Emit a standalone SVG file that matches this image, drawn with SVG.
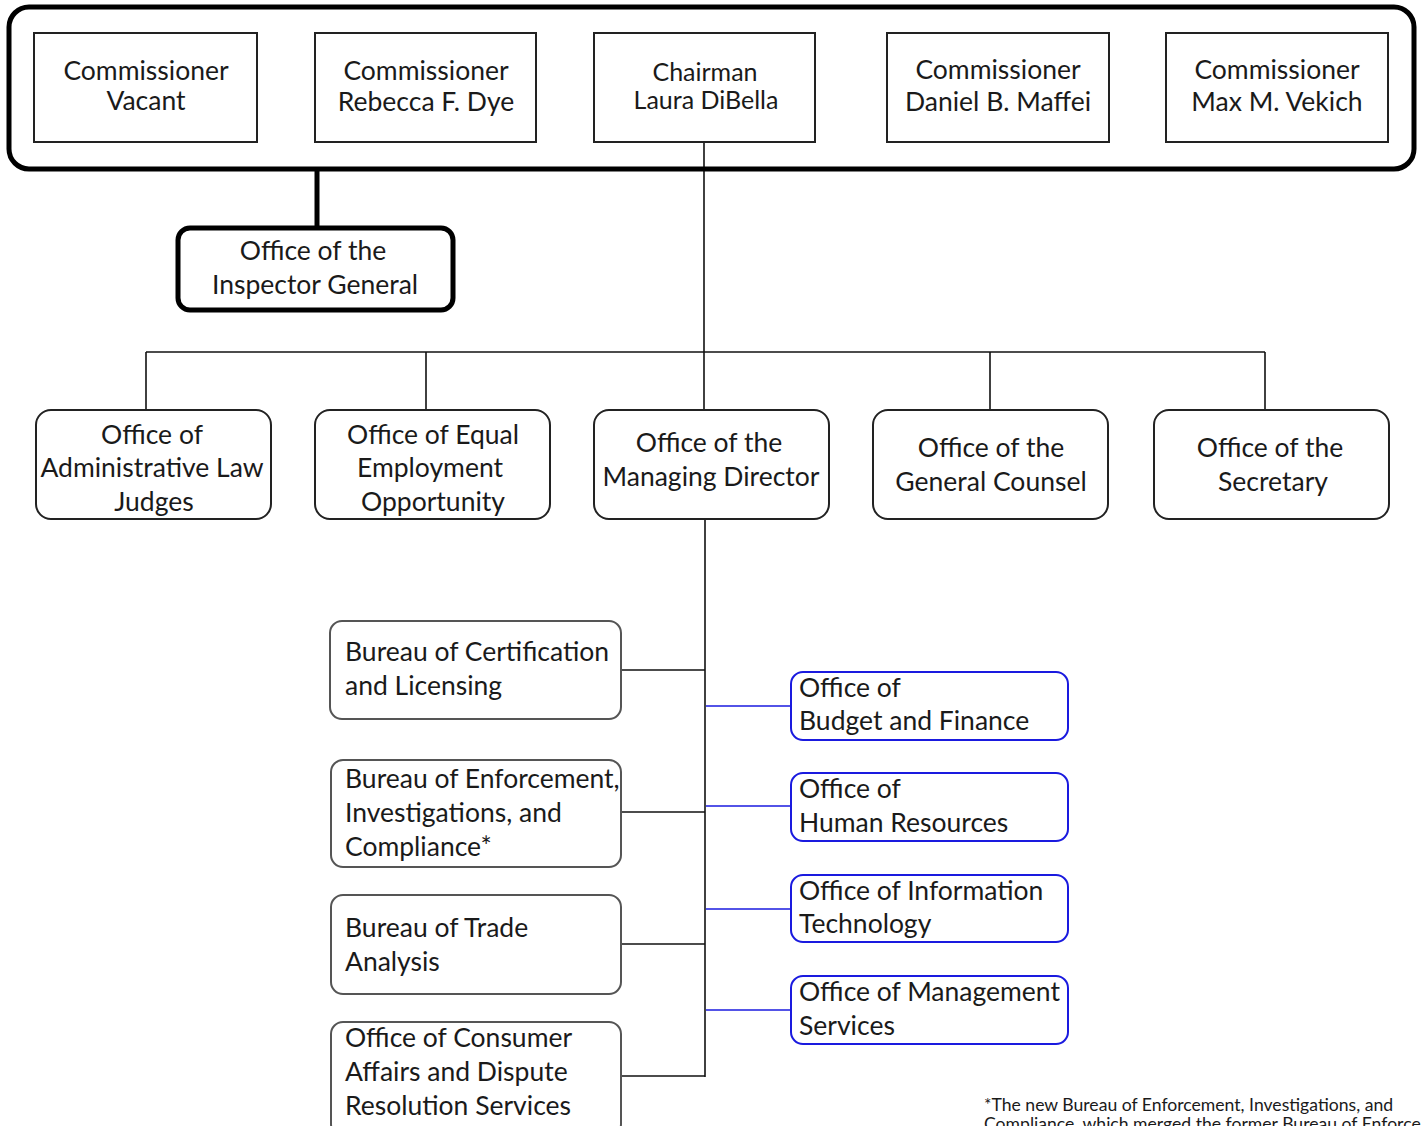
<svg xmlns="http://www.w3.org/2000/svg" width="1421" height="1126" viewBox="0 0 1421 1126">
<style>
text{font-family:Lato,"Open Sans","Liberation Sans",sans-serif;font-size:26.5px;fill:#1a1a1a}
.c{text-anchor:middle}
.ch{font-size:25px}
.sq{fill:#fff;stroke:#222;stroke-width:2}
.rb{fill:#fff;stroke:#222;stroke-width:2}
.gb{fill:#fff;stroke:#555;stroke-width:2}
.bb{fill:#fff;stroke:#1a1adf;stroke-width:2}
.thick{fill:#fff;stroke:#000;stroke-width:5}
.ln{stroke:#111;stroke-width:1.6;fill:none}
.bl{stroke:#1a1adf;stroke-width:1.6;fill:none}
.fn{font-size:17.6px}
</style>
<rect x="0" y="0" width="1421" height="1126" fill="#fff"/>
<g id="connectors">
<line x1="317" y1="169" x2="317" y2="228" stroke="#000" stroke-width="5"/>
<line class="ln" x1="704" y1="142" x2="704" y2="410"/>
<line class="ln" x1="146" y1="352" x2="1265" y2="352"/>
<line class="ln" x1="146" y1="352" x2="146" y2="410"/>
<line class="ln" x1="426" y1="352" x2="426" y2="410"/>
<line class="ln" x1="990" y1="352" x2="990" y2="410"/>
<line class="ln" x1="1265" y1="352" x2="1265" y2="410"/>
<line class="ln" x1="705" y1="519" x2="705" y2="1077"/>
<line class="ln" x1="621" y1="670" x2="705" y2="670"/>
<line class="ln" x1="621" y1="812" x2="705" y2="812"/>
<line class="ln" x1="621" y1="944" x2="705" y2="944"/>
<line class="ln" x1="621" y1="1076" x2="705" y2="1076"/>
<line class="bl" x1="706" y1="706" x2="791" y2="706"/>
<line class="bl" x1="706" y1="806" x2="791" y2="806"/>
<line class="bl" x1="706" y1="909" x2="791" y2="909"/>
<line class="bl" x1="706" y1="1010" x2="791" y2="1010"/>
</g>
<g id="commission">
<rect x="9" y="7" width="1405" height="162" rx="20" fill="none" stroke="#000" stroke-width="5"/>
</g>
<g id="comm-vacant"><rect class="sq" x="34" y="33" width="223" height="109"/><text class="c" x="146" y="80">Commissioner</text><text class="c" x="146" y="110">Vacant</text></g>
<g id="comm-dye"><rect class="sq" x="315" y="33" width="221" height="109"/><text class="c" x="426" y="80">Commissioner</text><text class="c" x="426" y="111">Rebecca F. Dye</text></g>
<g id="chairman"><rect class="sq" x="594" y="33" width="221" height="109"/><text class="c ch" x="705" y="81">Chairman</text><text class="c ch" x="706" y="109">Laura DiBella</text></g>
<g id="comm-maffei"><rect class="sq" x="887" y="33" width="222" height="109"/><text class="c" x="998" y="79">Commissioner</text><text class="c" x="998" y="111">Daniel B. Maffei</text></g>
<g id="comm-vekich"><rect class="sq" x="1166" y="33" width="222" height="109"/><text class="c" x="1277" y="79">Commissioner</text><text class="c" x="1277" y="111">Max M. Vekich</text></g>
<g id="oig"><rect class="thick" x="178" y="228" width="275" height="82" rx="12"/><text class="c" x="313" y="260">Office of the</text><text class="c" x="315" y="294">Inspector General</text></g>
<g id="alj"><rect class="rb" x="36" y="410" width="235" height="109" rx="15"/><text class="c" x="152" y="444">Office of</text><text class="c" x="152" y="477">Administrative Law</text><text class="c" x="154" y="511">Judges</text></g>
<g id="eeo"><rect class="rb" x="315" y="410" width="235" height="109" rx="15"/><text class="c" x="433" y="444">Office of Equal</text><text class="c" x="430" y="477">Employment</text><text class="c" x="433" y="511">Opportunity</text></g>
<g id="omd"><rect class="rb" x="594" y="410" width="235" height="109" rx="15"/><text class="c" x="709" y="452">Office of the</text><text class="c" x="711" y="486">Managing Director</text></g>
<g id="ogc"><rect class="rb" x="873" y="410" width="235" height="109" rx="15"/><text class="c" x="991" y="457">Office of the</text><text class="c" x="991" y="491">General Counsel</text></g>
<g id="osec"><rect class="rb" x="1154" y="410" width="235" height="109" rx="15"/><text class="c" x="1270" y="457">Office of the</text><text class="c" x="1273" y="491">Secretary</text></g>
<g id="bcl"><rect class="gb" x="330" y="621" width="291" height="98" rx="12"/><text x="345" y="661">Bureau of Certification</text><text x="345" y="695">and Licensing</text></g>
<g id="beic"><rect class="gb" x="331" y="760" width="290" height="107" rx="12"/><text x="345" y="788">Bureau of Enforcement,</text><text x="345" y="822">Investigations, and</text><text x="345" y="856">Compliance*</text></g>
<g id="bta"><rect class="gb" x="331" y="895" width="290" height="99" rx="12"/><text x="345" y="937">Bureau of Trade</text><text x="345" y="971">Analysis</text></g>
<g id="ocadrs"><rect class="gb" x="331" y="1022" width="290" height="114" rx="12"/><text x="345" y="1047">Office of Consumer</text><text x="345" y="1081">Affairs and Dispute</text><text x="345" y="1115">Resolution Services</text></g>
<g id="obf"><rect class="bb" x="791" y="672" width="277" height="68" rx="12"/><text x="799" y="697">Office of</text><text x="799" y="730">Budget and Finance</text></g>
<g id="ohr"><rect class="bb" x="791" y="773" width="277" height="68" rx="12"/><text x="799" y="798">Office of</text><text x="799" y="832">Human Resources</text></g>
<g id="oit"><rect class="bb" x="791" y="875" width="277" height="67" rx="12"/><text x="799" y="900">Office of Information</text><text x="799" y="933">Technology</text></g>
<g id="oms"><rect class="bb" x="791" y="976" width="277" height="68" rx="12"/><text x="799" y="1001">Office of Management</text><text x="799" y="1035">Services</text></g>
<g id="footnote"><text class="fn" x="984" y="1111">*The new Bureau of Enforcement, Investigations, and</text><text class="fn" x="984" y="1130">Compliance, which merged the former Bureau of Enforcement</text></g>
</svg>
